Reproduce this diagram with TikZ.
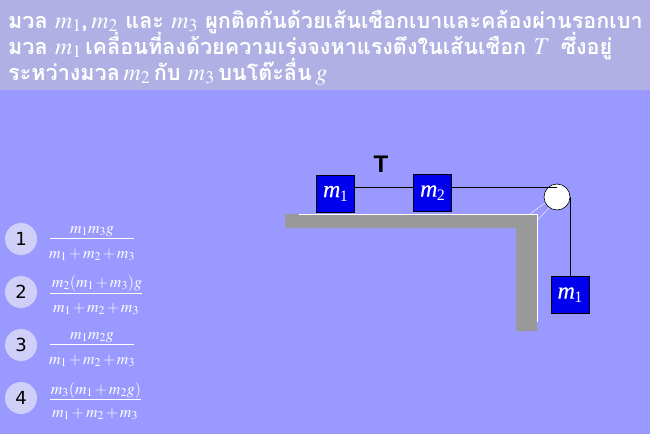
\documentclass[tikz,border=0pt]{standalone}
\usepackage{amsmath}
\usepackage{mathptmx}
\usepackage[no-math]{fontspec}
\setmainfont{Liberation Serif}
\newfontfamily\thaifont[Script=Thai]{Loma}
\newfontfamily\labelfont{DejaVu Sans}
\newfontfamily\tfont{Liberation Sans}
\newfontface\mfont[FakeBold=0.3]{Liberation Serif Italic}
\newcommand{\hm}[1]{{\fontsize{24}{26}\selectfont$#1$}}
\newcommand{\bm}[1]{{\mfont m}\kern-0.5pt\raisebox{-4pt}{\fontsize{16}{17}\selectfont #1}}
\definecolor{bgblue}{HTML}{9999FF}
\definecolor{headbar}{HTML}{B0B0E4}
\definecolor{tablegray}{HTML}{999999}
\definecolor{blockblue}{HTML}{0000EE}
\definecolor{badge}{HTML}{CFCFF8}
\tikzset{
  headline/.style={anchor=base west,inner sep=0pt,text=white,font=\thaifont\bfseries\fontsize{21.6}{24}\selectfont},
  block/.style={draw=black,fill=blockblue,line width=0.7pt,minimum width=38pt,minimum height=37pt,inner sep=0pt,text=white,font=\fontsize{24}{26}\selectfont},
  rope/.style={draw=black,line width=0.7pt},
  badgenode/.style={circle,fill=badge,minimum size=32pt,inner sep=0pt,text=black,font=\labelfont\fontsize{18}{20}\selectfont},
  answer/.style={anchor=base,inner sep=0pt,text=white,font=\fontsize{16}{19}\selectfont},
  fracrule/.style={draw=white,line width=0.8pt},
  hl/.style={draw=white,line width=0.7pt}
}
\medmuskip=2mu plus 1mu minus 1mu
\begin{document}
\begin{tikzpicture}[x=1pt,y=-1pt]
\useasboundingbox (0,0) rectangle (650,434);
\fill[bgblue] (0,0) rectangle (650,434);
\fill[headbar] (0,0) rectangle (650,90);
\node[headline] (l1) at (8,28) {มวล \hm{m_1},\,\hm{m_2} และ \hm{m_3} ผูกติดกันด้วยเส้นเชือกเบาและคล้องผ่านรอกเบา};
\node[headline] (l2) at (8,54) {มวล \hm{m_1}\,เคลื่อนที่ลงด้วยความเร่งจงหาแรงตึงในเส้นเชือก \hm{T}\, ซึ่งอยู่};
\node[headline] (l3) at (8,80) {ระหว่างมวล\,\hm{m_2}\,กับ \hm{m_3}\,บนโต๊ะลื่น\,\hm{g}};
% table
\fill[tablegray] (285,214) -- (537,214) -- (537,331) -- (516,331) -- (516,228) -- (285,228) -- cycle;
\draw[hl] (299,214) -- (537,214) -- (537,322);
\draw[draw=white,line width=0.4pt] (530,214) -- (545,203);
\draw[draw=white,line width=0.4pt] (537.5,220) -- (549,208);
% pieces
\node[block] (a) at (335.5,193.5) {\bm{1}};
\node[block] (b) at (432.5,193) {\bm{2}};
\node[block] (c) at (570,295) {\bm{1}};
\node[circle,draw=black,fill=white,line width=0.6pt,minimum size=26pt,inner sep=0pt] (p) at (557,197) {};
\coordinate (pt) at (557,187);
\coordinate (pr) at (570,197);
\draw[rope] (a.east |- pt) -- (b.west |- pt);
\draw[rope] (b.east |- pt) -- (pt);
\draw[rope] (pr) -- (c.north);
\node[inner sep=0pt,font=\tfont\bfseries\fontsize{24}{26}\selectfont,text=black] (t) at (381,164) {T};
% answers
\node[badgenode] (n1) at (21,239) {1};
\node[badgenode] (n2) at (21,292) {2};
\node[badgenode] (n3) at (21,345) {3};
\node[badgenode] (n4) at (21,398) {4};
\node[answer] (f1n) at (92,233) {$m_1m_3g$};
\node[answer] (f1d) at (92,258) {$m_1+m_2+m_3$};
\draw[fracrule] (50,238.5) -- (134,238.5);
\node[answer] (f2n) at (97,287) {$m_2(m_1+m_3)g$};
\node[answer] (f2d) at (96,312) {$m_1+m_2+m_3$};
\draw[fracrule] (50,293) -- (142,293);
\node[answer] (f3n) at (92,339) {$m_1m_2g$};
\node[answer] (f3d) at (92,364) {$m_1+m_2+m_3$};
\draw[fracrule] (50,344.5) -- (134,344.5);
\node[answer] (f4n) at (96,394) {$m_3(m_1+m_2g)$};
\node[answer] (f4d) at (95,417) {$m_1+m_2+m_3$};
\draw[fracrule] (50,399) -- (141,399);
\end{tikzpicture}
\end{document}
